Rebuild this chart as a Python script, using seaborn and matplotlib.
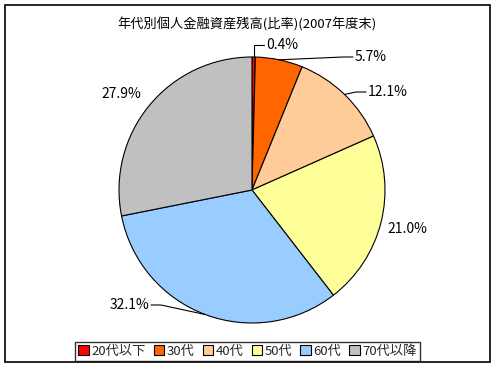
import matplotlib
matplotlib.use("Agg")
import matplotlib.pyplot as plt
import seaborn as sns
import numpy as np
from matplotlib.patches import Patch, Rectangle

sns.set_theme(style="white")
plt.rcParams['font.family'] = ['Noto Sans CJK JP', 'DejaVu Sans']

title = "年代別個人金融資産残高(比率)(2007年度末)"
categories = ["20代以下", "30代", "40代", "50代", "60代", "70代以降"]
values = [0.4, 5.7, 12.1, 21.0, 32.1, 27.9]
colors = ["#FF0000", "#FF6600", "#FFCC99", "#FFFF99", "#99CCFF", "#C0C0C0"]

W, H = 496, 368
fig = plt.figure(figsize=(W / 100, H / 100), dpi=100)
ax = fig.add_axes([0, 0, 1, 1])
ax.set_xlim(0, W)
ax.set_ylim(0, H)
ax.axis("off")

cx, cy, r = 252, H - 190, 133
wedges, _ = ax.pie(values, colors=colors, startangle=90, counterclock=False,
                   center=(cx, cy), radius=r, frame=True,
                   wedgeprops=dict(edgecolor="black", linewidth=0.8))
ax.set_xlim(0, W)
ax.set_ylim(0, H)
ax.set_aspect("equal")
ax.axis("off")

# outer frame
ax.add_patch(Rectangle((5, H - 362), 485, 357, fill=False, edgecolor="black", linewidth=1.2, clip_on=False))

ax.text(247, H - 24, title, ha="center", va="center", fontsize=9.5, color="black")

# label positions (layout) per slice: (text x, text y, ha, leader?)
label_pos = [(266, 45, "left", "elbow"),
             (355, 57, "left", "line"),
             (368, 92, "left", "line"),
             (387, 229, "left", None),
             (149, 305, "right", "line"),
             (141, 94, "right", None)]

cum = np.cumsum([0] + values)
total = sum(values)
for i, (v, (tx, ty, ha, lead)) in enumerate(zip(values, label_pos)):
    mid = np.deg2rad((cum[i] + v / 2) / total * 360)
    ex = cx + r * np.sin(mid)
    ey = cy + r * np.cos(mid)
    ax.text(tx, H - ty, f"{v:.1f}%", ha=ha, va="center", fontsize=10, color="black")
    if lead == "elbow":
        ax.plot([ex, ex, tx - 2], [ey, H - ty, H - ty], color="black", lw=0.8)
    elif lead == "line":
        if ha == "left":
            ax.plot([ex, tx - 12, tx - 2], [ey, H - ty, H - ty], color="black", lw=0.8)
        else:
            ax.plot([ex, tx + 12, tx + 2], [ey, H - ty, H - ty], color="black", lw=0.8)

handles = [Patch(facecolor=c, edgecolor="black", linewidth=0.8) for c in colors]
leg = fig.legend(handles, categories, loc="center", bbox_to_anchor=(247.5 / W, 1 - 351.5 / H),
                 ncol=6, fontsize=9.5, frameon=True, fancybox=False,
                 handlelength=0.8, handleheight=0.8, handletextpad=0.2,
                 columnspacing=0.6, borderpad=0.25, borderaxespad=0)
leg.get_frame().set_edgecolor("black")
leg.get_frame().set_linewidth(1.0)

fig.savefig("out.png", dpi=100)
